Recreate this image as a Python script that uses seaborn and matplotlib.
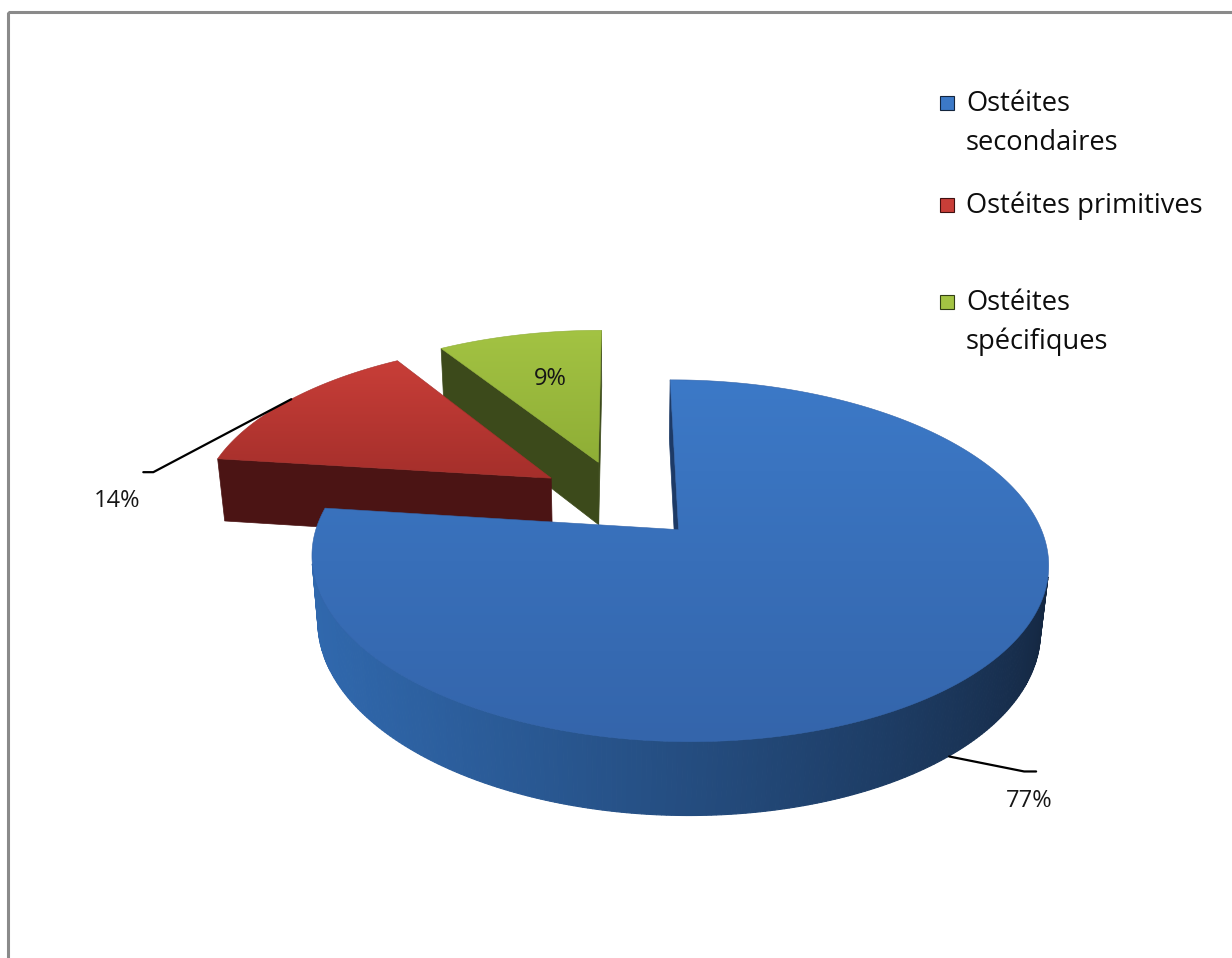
import numpy as np
import matplotlib
matplotlib.use("Agg")
import matplotlib.pyplot as plt
import seaborn as sns
from matplotlib.patches import Polygon, Rectangle
from matplotlib.colors import to_rgb

# ---- data ----
categories = ["Ostéites secondaires", "Ostéites primitives", "Ostéites spécifiques"]
legend_labels = ["Ostéites\nsecondaires", "Ostéites primitives", "Ostéites\nspécifiques"]
values = [77, 14, 9]
pct_labels = ["77%", "14%", "9%"]

# ---- colours (top gradient, side light/dark, cut face) ----
top_colors = [("#3c79c7", "#3465ab"), ("#c83e38", "#a52f2b"), ("#a3c343", "#8fae36")]
side_colors = [("#3068ad", "#13243c"), ("#5a1a1a", "#3f1010"), ("#4a5a21", "#323e15")]
cut_colors = ["#1d3a66", "#4b1414", "#3c4a1b"]

sns.set_theme(style="white")
plt.rcParams["font.family"] = ["Open Sans", "DejaVu Sans"]

W, H, DPI = 1232, 958, 100
fig = plt.figure(figsize=(W / DPI, H / DPI), dpi=DPI)
ax = fig.add_axes([0, 0, 1, 1])
ax.set_xlim(0, W)
ax.set_ylim(H, 0)
ax.axis("off")

# ---- simple perspective camera for the 3D pie ----
PHI = np.radians(28)
DIST = 5.3
FOCAL = 1865
ORIGIN = (621, 499)
EXPLODE = 0.24
THICK = 0.21
CAM = np.array([0.0, -DIST * np.cos(PHI), DIST * np.sin(PHI)])


def project(X, Y, Z):
    X, Y, Z = (np.asarray(a, dtype=float) for a in (X, Y, Z))
    depth = DIST + Y * np.cos(PHI) - Z * np.sin(PHI)
    sx = ORIGIN[0] + FOCAL * X / depth
    sy = ORIGIN[1] - FOCAL * (Y * np.sin(PHI) + Z * np.cos(PHI)) / depth
    return sx, sy


def facing(point, normal):
    return np.dot(CAM - np.asarray(point), np.asarray(normal)) > 0


def mix(c1, c2, t):
    a, b = np.array(to_rgb(c1)), np.array(to_rgb(c2))
    return tuple(a + (b - a) * t)


def gradient_fill(xs, ys, c_top, c_bot, z):
    poly = Polygon(np.column_stack([xs, ys]), closed=True, facecolor="none",
                   edgecolor="none")
    ax.add_patch(poly)
    grad = np.linspace(0, 1, 256)
    rgb = np.array([mix(c_top, c_bot, g) for g in grad])[:, None, :]
    im = ax.imshow(rgb, extent=(xs.min(), xs.max(), ys.max(), ys.min()),
                   aspect="auto", zorder=z, interpolation="bilinear")
    im.set_clip_path(poly)
    ax.add_patch(Polygon(np.column_stack([xs, ys]), closed=True,
                         facecolor="none", edgecolor=c_bot, lw=0.4, zorder=z))


fracs = np.array(values, dtype=float) / np.sum(values)
hi_angles = 90 - 360 * np.concatenate([[0], np.cumsum(fracs)[:-1]])
lo_angles = hi_angles - 360 * fracs
mids = np.radians((hi_angles + lo_angles) / 2)
centers = [EXPLODE * np.array([np.cos(m), np.sin(m)]) for m in mids]

light = np.array([-1.0, -0.2])
light /= np.linalg.norm(light)

order = sorted(range(len(values)), key=lambda i: -centers[i][1])
label_anchor = {}
for rank, i in enumerate(order):
    z0 = 10 + rank * 5
    cx, cy = centers[i]
    lo, hi = np.radians(lo_angles[i]), np.radians(hi_angles[i])

    # radial cut faces
    for ang, nang in ((hi, hi + np.pi / 2), (lo, lo - np.pi / 2)):
        ox, oy = cx + np.cos(ang), cy + np.sin(ang)
        mid_pt = [(cx + ox) / 2, (cy + oy) / 2, -THICK / 2]
        if facing(mid_pt, [np.cos(nang), np.sin(nang), 0]):
            X = [cx, ox, ox, cx]
            Y = [cy, oy, oy, cy]
            Z = [0, 0, -THICK, -THICK]
            sx, sy = project(X, Y, Z)
            ax.add_patch(Polygon(np.column_stack([sx, sy]), closed=True,
                                 facecolor=cut_colors[i], edgecolor=cut_colors[i],
                                 lw=0.5, zorder=z0))

    # outer curved wall, shaded by a light from the left
    n = max(12, int(np.degrees(hi - lo) * 1.5))
    th = np.linspace(lo, hi, n + 1)
    for a, b in zip(th[:-1], th[1:]):
        m = (a + b) / 2
        nrm = np.array([np.cos(m), np.sin(m)])
        p = [cx + nrm[0], cy + nrm[1], -THICK / 2]
        if not facing(p, [nrm[0], nrm[1], 0]):
            continue
        t = (np.dot(nrm, light) + 1) / 2
        col = mix(side_colors[i][1], side_colors[i][0], t)
        X = [cx + np.cos(a), cx + np.cos(b), cx + np.cos(b), cx + np.cos(a)]
        Y = [cy + np.sin(a), cy + np.sin(b), cy + np.sin(b), cy + np.sin(a)]
        Z = [0, 0, -THICK, -THICK]
        sx, sy = project(X, Y, Z)
        ax.add_patch(Polygon(np.column_stack([sx, sy]), closed=True,
                             facecolor=col, edgecolor=col, lw=0.8, zorder=z0 + 1))

    # top face
    th = np.linspace(lo, hi, max(20, int(np.degrees(hi - lo) * 2)))
    X = np.concatenate([[cx], cx + np.cos(th)])
    Y = np.concatenate([[cy], cy + np.sin(th)])
    sx, sy = project(X, Y, np.zeros_like(X))
    gradient_fill(sx, sy, top_colors[i][0], top_colors[i][1], z0 + 2)

    # anchor points for value labels
    m = mids[i]
    label_anchor[i] = {
        "top_edge": project(cx + np.cos(m), cy + np.sin(m), 0),
        "bottom_edge": project(cx + np.cos(m), cy + np.sin(m), -THICK),
        "inside": project(cx + 0.65 * np.cos(m), cy + 0.65 * np.sin(m), 0),
    }

# ---- value labels ----
FS = 17
TXT = "#161616"
# 77 % : leader from the bottom rim of the wall
sx, sy = label_anchor[0]["bottom_edge"]
pts = np.array([[sx - 6, sy + 4], [sx + 69, sy + 19], [sx + 81, sy + 19]])
ax.plot(pts[:, 0], pts[:, 1], color="black", lw=1.6, zorder=40)
ax.text(pts[-1, 0] - 7, pts[-1, 1] + 30, pct_labels[0], ha="center", va="center",
        fontsize=FS, color=TXT, zorder=40)

# 14 % : leader from the outer top rim
sx, sy = label_anchor[1]["top_edge"]
pts = np.array([[sx + 2, sy - 1], [sx - 136, sy + 72], [sx - 146, sy + 72]])
ax.plot(pts[:, 0], pts[:, 1], color="black", lw=1.6, zorder=40)
ax.text(pts[-1, 0] - 26, pts[-1, 1] + 29, pct_labels[1], ha="center", va="center",
        fontsize=FS, color=TXT, zorder=40)

# 9 % : inside the slice
sx, sy = label_anchor[2]["inside"]
ax.text(sx + 6, sy + 4, pct_labels[2], ha="center", va="center",
        fontsize=FS, color=TXT, zorder=40)

# ---- legend ----
leg_y = [103, 205, 302]
for i, (lab, y) in enumerate(zip(legend_labels, leg_y)):
    ax.add_patch(Rectangle((940, y - 7), 14, 14, facecolor=top_colors[i][0],
                           edgecolor=side_colors[i][1], lw=0.8, zorder=40))
    for k, line in enumerate(lab.split("\n")):
        ax.text(966, y + 1 + k * 39, line, ha="left", va="center", fontsize=19.6,
                color="#0d0d0d", zorder=40)

# ---- chart frame ----
ax.add_patch(Rectangle((7.5, 11.5), W + 40, H + 40, facecolor="none",
                       edgecolor="#8a8a8a", lw=2.2, zorder=50, clip_on=True))

fig.savefig("out.png", dpi=DPI, facecolor="white")
